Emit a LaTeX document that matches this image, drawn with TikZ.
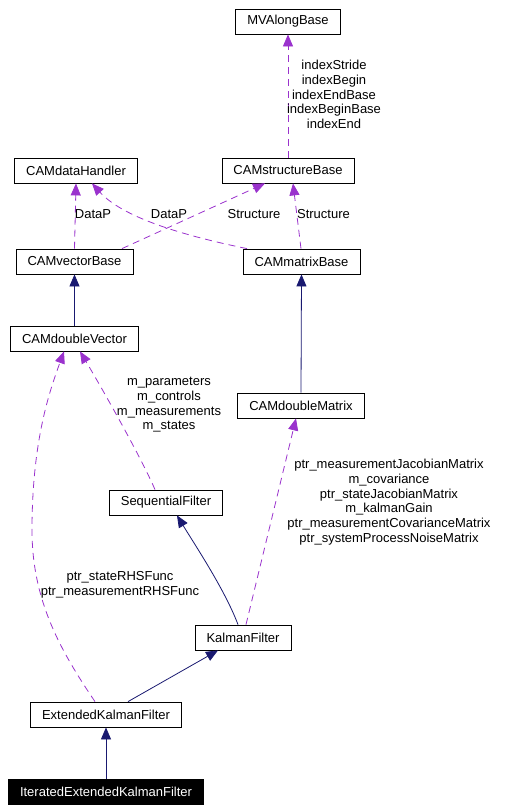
\documentclass[tikz,border=0pt]{standalone}
\usepackage{fontspec}
\setmainfont{Liberation Sans}
\usetikzlibrary{arrows.meta}
\definecolor{edgepurple}{HTML}{9A32CD}
\definecolor{edgenavy}{HTML}{191970}

\begin{document}
\begin{tikzpicture}[x=1pt,y=-1pt,
    cls/.style={draw=black,line width=0.8pt,inner xsep=11.5pt,inner ysep=0pt,
      minimum height=25pt,font=\fontsize{13}{14.7}\selectfont},
    lbl/.style={align=center,inner sep=0pt,font=\fontsize{13}{14.7}\selectfont},
    member/.style={draw=edgepurple,line width=0.8pt,dash pattern=on 7pt off 5pt,
      -{Triangle[length=12pt,width=10pt]}},
    inherit/.style={draw=edgenavy,line width=0.8pt,
      -{Triangle[length=12pt,width=10pt]}}]
  \useasboundingbox (0,0) rectangle (512,812);

  % classes
  \node[cls] (mva) at (288,21.5) {MVAlongBase};
  \node[cls] (dhandler) at (76,170.5) {CAMdataHandler};
  \node[cls] (sbase) at (288,170.5) {CAMstructureBase};
  \node[cls] (vbase) at (74.5,261.5) {CAMvectorBase};
  \node[cls] (mbase) at (301.5,261.5) {CAMmatrixBase};
  \node[cls] (dvec) at (74.5,338.5) {CAMdoubleVector};
  \node[cls] (dmat) at (301,405.5) {CAMdoubleMatrix};
  \node[cls] (seqf) at (166,502.5) {SequentialFilter};
  \node[cls] (kf) at (243,637.5) {KalmanFilter};
  \node[cls] (ekf) at (106,714.5) {ExtendedKalmanFilter};
  \node[cls,fill=black,text=white] (iekf) at (106,792) {IteratedExtendedKalmanFilter};

  % members
  \draw[member] (sbase.north) -- (mva.south);
  \draw[member] (vbase.north) -- (dhandler.south);
  \draw[member] ([xshift=-54.5]mbase.north) .. controls (195,238) and (125,220) .. ([xshift=16]dhandler.south);
  \draw[member] ([xshift=47.5]vbase.north) -- ([xshift=-23]sbase.south);
  \draw[member] ([xshift=-0.5]mbase.north) -- ([xshift=5]sbase.south);
  \draw[member] ([xshift=-11]seqf.north) .. controls (140,455) and (100,385) .. ([xshift=5.5]dvec.south);
  \draw[member] ([xshift=-11]ekf.north) .. controls (60,650) and (32,600) .. (32,530)
    .. controls (32,440) and (50,390) .. ([xshift=-10.5]dvec.south);
  \draw[member] ([xshift=3]kf.north) -- ([xshift=-5]dmat.south);

  % inheritance
  \draw[inherit] (dvec.north) -- (vbase.south);
  \draw[inherit] (dmat.north) -- (mbase.south);
  \draw[inherit] ([xshift=-5]kf.north) .. controls (225,590) and (195,545) .. ([xshift=11]seqf.south);
  \draw[inherit] ([xshift=22]ekf.north) -- ([xshift=-25]kf.south);
  \draw[inherit] (iekf.north) -- (ekf.south);

  % edge labels
  \node[lbl] (lindex) at (334,94.5) {indexStride\\indexBegin\\indexEndBase\\indexBeginBase\\indexEnd};
  \node[lbl] (ldatav) at (93,214) {DataP};
  \node[lbl] (ldatam) at (169,214) {DataP};
  \node[lbl] (lstructv) at (254,214) {Structure};
  \node[lbl] (lstructm) at (323.5,214) {Structure};
  \node[lbl] (lseq) at (169,405) {m\_parameters\\m\_controls\\m\_measurements\\m\_states};
  \node[lbl] (lkf) at (389,502) {ptr\_measurementJacobianMatrix\\m\_covariance\\ptr\_stateJacobianMatrix\\m\_kalmanGain\\ptr\_measurementCovarianceMatrix\\ptr\_systemProcessNoiseMatrix};
  \node[lbl] (lekf) at (120,585) {ptr\_stateRHSFunc\\ptr\_measurementRHSFunc};
\end{tikzpicture}
\end{document}
